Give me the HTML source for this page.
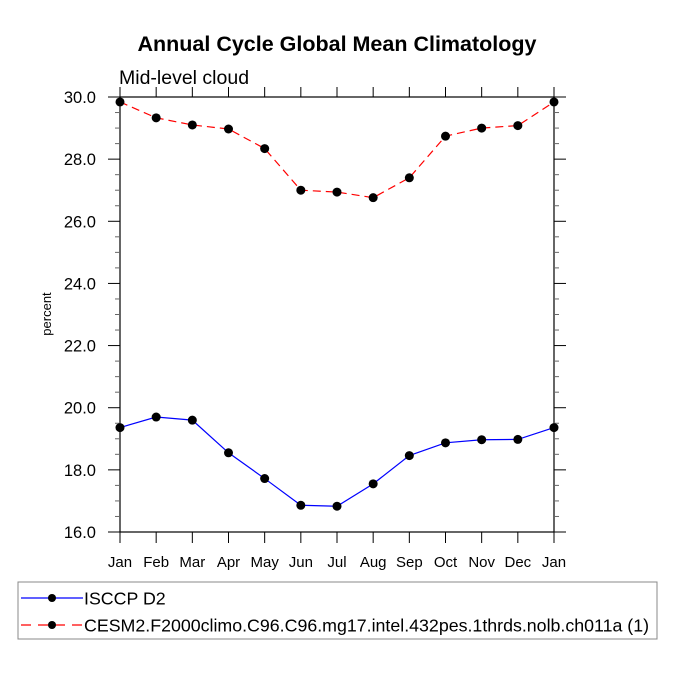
<!DOCTYPE html>
<html><head><meta charset="utf-8"><style>
body{margin:0;background:#fff}
svg text{font-family:"Liberation Sans",Helvetica,Arial,sans-serif}
</style></head><body>
<svg id="chart" width="675" height="675" viewBox="0 0 675 675" xmlns="http://www.w3.org/2000/svg">
<rect width="675" height="675" fill="#fff"/>
<text x="337" y="51" text-anchor="middle" font-size="21.5" font-weight="bold">Annual Cycle Global Mean Climatology</text>
<text x="119" y="84" font-size="19.5">Mid-level cloud</text>
<text transform="translate(51,314) rotate(-90)" text-anchor="middle" font-size="13">percent</text>
<g id="axes"></g>
<g id="series"></g>
<rect x="18" y="582" width="639" height="57" fill="none" stroke="#888" stroke-width="1"/>
<g>
<line x1="21" y1="598" x2="83" y2="598" stroke="#0000ff" stroke-width="1.2"/>
<circle cx="52" cy="598" r="4" fill="#000"/>
<text x="84" y="604.5" font-size="17.8">ISCCP D2</text>
</g>
<g>
<line x1="21" y1="625" x2="83" y2="625" stroke="#ff0000" stroke-width="1.2" stroke-dasharray="10,7"/>
<circle cx="52" cy="625" r="4" fill="#000"/>
<text x="84" y="631.5" font-size="17.8">CESM2.F2000climo.C96.C96.mg17.intel.432pes.1thrds.nolb.ch011a (1)</text>
</g>
</svg>
<script>
const months=["Jan","Feb","Mar","Apr","May","Jun","Jul","Aug","Sep","Oct","Nov","Dec","Jan"];
const isccp=[19.36,19.7,19.6,18.55,17.72,16.86,16.83,17.55,18.46,18.87,18.97,18.98,19.36];
const cesm=[29.84,29.33,29.1,28.97,28.34,27.0,26.94,26.76,27.4,28.74,29.0,29.08,29.84];
const yTicks=[16,18,20,22,24,26,28,30];
const NS="http://www.w3.org/2000/svg";
const L=120,R=554,T=97,B=532,ymin=16,ymax=30;
const xs=i=>L+(R-L)*i/(months.length-1);
const ys=v=>B-(B-T)*(v-ymin)/(ymax-ymin);
function mk(tag,attrs,parent){const e=document.createElementNS(NS,tag);for(const k in attrs)e.setAttribute(k,attrs[k]);parent.appendChild(e);return e;}
const ax=document.getElementById('axes');
const frame=mk('rect',{x:L,y:T,width:R-L,height:B-T,fill:'none',stroke:'#000','stroke-width':1.2},ax);


months.forEach((m,i)=>{const x=xs(i);
mk('line',{x1:x,y1:B,x2:x,y2:B+11,stroke:'#000','stroke-width':1},ax);
mk('line',{x1:x,y1:T,x2:x,y2:T-10,stroke:'#000','stroke-width':1},ax);
const t=mk('text',{x:x,y:B+35,'text-anchor':'middle','font-size':15},ax);t.textContent=m;

});
for(let v=ymin;v<=ymax+1e-9;v+=0.5){const y=ys(v);const major=Math.abs(v/2-Math.round(v/2))<1e-6;
const len=major?12:5,col=major?'#000':'#666';
mk('line',{x1:L,y1:y,x2:L-len,y2:y,stroke:col,'stroke-width':1},ax);
mk('line',{x1:R,y1:y,x2:R+len,y2:y,stroke:col,'stroke-width':1},ax);}
yTicks.forEach(v=>{const t=mk('text',{x:L-24,y:ys(v)+6,'text-anchor':'end','font-size':16.5},ax);t.textContent=v.toFixed(1);

});
const sg=document.getElementById('series');
function draw(vals,color,dash,name){
const g=mk('g',{},sg);


const a={points:vals.map((v,i)=>xs(i)+','+ys(v)).join(' '),fill:'none',stroke:color,'stroke-width':1.2};
if(dash)a['stroke-dasharray']=dash;
mk('polyline',a,g);
vals.forEach((v,i)=>{const c=mk('circle',{cx:xs(i),cy:ys(v),r:4.5,fill:'#000'},g);

});}
draw(isccp,'#0000ff',null,'series-isccp');
draw(cesm,'#ff0000','8,5','series-cesm');
</script>
</body></html>
